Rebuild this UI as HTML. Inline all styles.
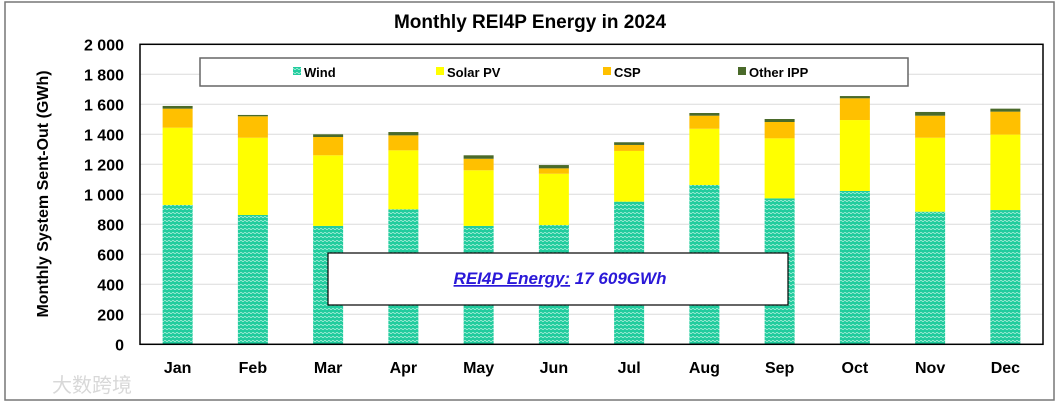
<!DOCTYPE html>
<html><head><meta charset="utf-8"><style>
body{margin:0;background:#fff;}
svg text{font-family:"Liberation Sans","Noto Sans CJK SC",sans-serif;}
</style></head><body>
<svg id="chart" width="1060" height="405" xmlns="http://www.w3.org/2000/svg">
<defs>
<pattern id="windPat" width="4" height="4" patternUnits="userSpaceOnUse">
<rect width="4" height="4" fill="#22cc9e"/>
<path d="M0 1 Q1 0 2 1 T4 1" stroke="#bff3e3" stroke-width="0.7" fill="none"/>
</pattern>
</defs>
<rect x="5" y="2" width="1049" height="398" fill="#fff" stroke="#777" stroke-width="1.5"/>
<text x="530" y="28" text-anchor="middle" font-size="19" font-weight="bold">Monthly REI4P Energy in 2024</text>
<g id="grid"></g>
<g id="bars"></g>
<rect x="140" y="44.3" width="903" height="300" fill="none" stroke="#000" stroke-width="1.5"/>
<g id="yticks"></g>
<g id="xticks"></g>
<text transform="translate(48,194) rotate(-90)" text-anchor="middle" font-size="16" font-weight="bold">Monthly System Sent-Out (GWh)</text>
<g>
<rect x="200" y="58" width="708" height="28" fill="#fff" stroke="#666" stroke-width="1.5"/>
<g><rect x="293" y="67" width="8" height="8" fill="url(#windPat)"/><text x="304" y="77" font-size="13" font-weight="bold">Wind</text></g>
<g><rect x="436" y="67" width="8" height="8" fill="#ffff00"/><text x="447" y="77" font-size="13" font-weight="bold">Solar PV</text></g>
<g><rect x="603" y="67" width="8" height="8" fill="#ffc000"/><text x="614" y="77" font-size="13" font-weight="bold">CSP</text></g>
<g><rect x="738" y="67" width="8" height="8" fill="#4a6a2a"/><text x="749" y="77" font-size="13" font-weight="bold">Other IPP</text></g>
</g>
<g>
<rect x="328" y="253" width="460" height="52" fill="#fff" stroke="#000" stroke-width="1.2"/>
<text x="560" y="284" text-anchor="middle" font-size="17" font-weight="bold" font-style="italic" fill="#2a18d8"><tspan text-decoration="underline">REI4P Energy:</tspan> 17 609GWh</text>
</g>
<text x="52" y="392" font-size="20" fill="#d8d8d8">大数跨境</text>
</svg>
<script>
const months=["Jan","Feb","Mar","Apr","May","Jun","Jul","Aug","Sep","Oct","Nov","Dec"];
const wind=[929,862,789,900,789,795,951,1062,973,1022,884,895];
const solar=[515,515,471,393,371,342,338,375,400,473,493,503];
const csp=[127,143,122,100,77,36,40,87,109,145,147,153];
const other=[18,9,18,22,23,22,18,18,20,15,25,20];
const yTicks=[0,200,400,600,800,1000,1200,1400,1600,1800,2000];
const yLabels=["0","200","400","600","800","1 000","1 200","1 400","1 600","1 800","2 000"];
const NS="http://www.w3.org/2000/svg";
const L=140,R=1043,T=44.3,B=344.3,YMAX=2000;
const cw=(R-L)/months.length, bw=30;
const y=v=>B-(v/YMAX)*(B-T);
const xc=i=>L+cw*(i+0.5);
function mk(tag,attrs,parent){const e=document.createElementNS(NS,tag);for(const k in attrs)e.setAttribute(k,attrs[k]);parent.appendChild(e);return e;}
const grid=document.getElementById('grid'),yt=document.getElementById('yticks'),xt=document.getElementById('xticks'),bars=document.getElementById('bars');
yTicks.forEach((v,i)=>{
  if(v>0&&v<YMAX){const g=mk('line',{x1:L,x2:R,y1:y(v),y2:y(v),stroke:'#dcdcdc','stroke-width':1},grid);
  
  }
  const t=mk('text',{x:124,y:y(v)+6,'text-anchor':'end','font-size':16,'font-weight':'bold'},yt);
  t.textContent=yLabels[i];
  
  
});
months.forEach((m,i)=>{
  const t=mk('text',{x:xc(i),y:373,'text-anchor':'middle','font-size':16,'font-weight':'bold'},xt);
  t.textContent=m;
  
  
  const series=[[wind[i],'url(#windPat)','wind'],[solar[i],'#ffff00','solar'],[csp[i],'#ffc000','csp'],[other[i],'#4a6a2a','other']];
  let base=0;
  series.forEach(s=>{
    const top=base+s[0];
    const r=mk('rect',{x:xc(i)-bw/2,y:y(top),width:bw,height:y(base)-y(top),fill:s[1]},bars);
    
    
    base=top;
  });
});
</script>
</body></html>
